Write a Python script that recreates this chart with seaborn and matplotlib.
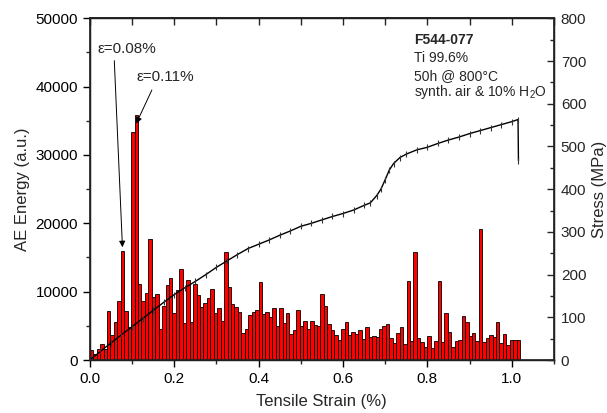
import numpy as np
import pandas as pd
import seaborn as sns
import matplotlib.pyplot as plt
from matplotlib.ticker import MultipleLocator

# Acoustic emission energy per strain bin (a.u.)
BIN = 0.00816  # strain (%) covered by one AE bin
ae_energy = [
    1460, 880, 1560, 2290, 1560, 7170, 3660, 5510, 8640, 15960,
    7170, 4880, 33300, 35800, 11080, 8660, 9760, 17670, 9170, 9610,
    4590, 7930, 10960, 11950, 6850, 10300, 13300, 5470, 11750, 5560,
    11080, 9470, 7710, 8300, 9030, 10350, 6830, 7560, 5760, 15760,
    10690, 8150, 7710, 7000, 3900, 4490, 6540, 7000, 7370, 11400,
    6730, 6980, 6340, 7540, 4980, 7560, 5370, 6830, 3790, 4390,
    7320, 4980, 5760, 4510, 5760, 5120, 4980, 9640, 7850, 5250,
    4440, 3710, 2930, 4610, 5580, 3640, 4100, 3740, 4390, 3050,
    4880, 3420, 3560, 3370, 4490, 4930, 5340, 3170, 2560, 3900,
    4780, 2310, 11610, 2730, 15860, 3240, 2680, 1900, 3510, 1710,
    2780, 11610, 2590, 6950, 4150, 1950, 2780, 2900, 6400, 5530,
    3470, 4000, 2780, 19180, 2680, 3170, 3690, 3300, 5530, 2500,
    3790, 2180, 2900, 2900, 2900,
]

# Stress-strain curve
stress_strain = [
    0.000, 0.025, 0.050, 0.075, 0.100, 0.125, 0.150, 0.175, 0.200, 0.225,
    0.250, 0.275, 0.300, 0.325, 0.350, 0.375, 0.400, 0.425, 0.450, 0.475,
    0.500, 0.525, 0.550, 0.575, 0.600, 0.625, 0.650, 0.665, 0.680, 0.690,
    0.700, 0.710, 0.720, 0.735, 0.750, 0.775, 0.800, 0.825, 0.850, 0.875,
    0.900, 0.925, 0.950, 0.975, 1.000, 1.015, 1.016,
]
stress_mpa = [
    0, 20, 40, 59, 78, 97, 116, 135, 153, 169,
    184, 200, 217, 232, 247, 261, 271, 281, 292, 302,
    313, 320, 328, 336, 343, 351, 362, 368, 385, 400,
    422, 445, 460, 474, 482, 492, 498, 507, 515, 522,
    530, 537, 544, 551, 558, 563, 467,
]

x_ticks = [0.0, 0.2, 0.4, 0.6, 0.8, 1.0]

sns.set_theme(style="ticks")
plt.rcParams["font.family"] = ["Liberation Sans", "DejaVu Sans"]
plt.rcParams["mathtext.fontset"] = "custom"
plt.rcParams["mathtext.rm"] = "Liberation Sans"
plt.rcParams["mathtext.default"] = "regular"

fig = plt.figure(figsize=(6.07, 4.13), dpi=100)
ax = fig.add_axes([0.148, 0.1283, 0.7645, 0.8274])

n = len(ae_energy)
ae = pd.DataFrame({"strain": (np.arange(n) + 0.5) * BIN, "energy": ae_energy})
sns.histplot(data=ae, x="strain", weights="energy", bins=n,
             binrange=(0, n * BIN), ax=ax,
             color="#ff0000", edgecolor="black", linewidth=0.6, alpha=1.0)

ax.set_xlim(0, 1.1)
ax.set_ylim(0, 50000)
ax.set_xticks(x_ticks)
ax.xaxis.set_minor_locator(MultipleLocator(0.1))
ax.yaxis.set_major_locator(MultipleLocator(10000))
ax.yaxis.set_minor_locator(MultipleLocator(5000))
ax.tick_params(axis="both", which="major", direction="out", length=5,
               width=1, labelsize=11, colors="black")
ax.tick_params(axis="both", which="minor", direction="out", length=3, width=1)
ax.set_xlabel("Tensile Strain (%)", fontsize=12, labelpad=6)
ax.set_ylabel("AE Energy (a.u.)", fontsize=12)
ax.yaxis.set_label_coords(-0.128, 0.5)
for s in ax.spines.values():
    s.set_visible(True)
    s.set_linewidth(1)
    s.set_color("black")

top = ax.secondary_xaxis("top")
top.xaxis.set_major_locator(MultipleLocator(0.1))
top.tick_params(axis="x", which="major", direction="in", length=5, width=1,
                labeltop=False)

# Stress curve on the right axis
ax2 = ax.twinx()
curve = pd.DataFrame({"strain": stress_strain, "stress": stress_mpa})
sns.lineplot(data=curve, x="strain", y="stress", ax=ax2, color="black",
             linewidth=1.0, marker="|", markersize=5, markeredgewidth=0.8,
             markeredgecolor="#333333")
ax2.set_ylim(0, 800)
ax2.yaxis.set_major_locator(MultipleLocator(100))
ax2.yaxis.set_minor_locator(MultipleLocator(50))
ax2.tick_params(axis="y", which="major", direction="in", length=5, width=1,
                labelsize=11, pad=5)
ax2.tick_params(axis="y", which="minor", direction="in", length=3, width=1)
ax2.set_ylabel("Stress (MPa)", fontsize=12)
ax2.yaxis.set_label_coords(1.082, 0.5)
ax2.set_xlabel("")

# Arrows marking the first AE bursts
arrow = dict(arrowstyle="-|>", color="black", lw=0.7, mutation_scale=9,
             shrinkA=0, shrinkB=0)
ax.annotate("\u03b5=0.08%", xy=(0.0773, 16500), xytext=(0.088, 45500),
            fontsize=11, ha="center", va="center", arrowprops=None)
ax.annotate("", xy=(0.0773, 16500), xytext=(0.058, 43800), arrowprops=arrow)
ax.annotate("\u03b5=0.11%", xy=(0.110, 34800), xytext=(0.178, 41400),
            fontsize=11, ha="center", va="center", arrowprops=None)
ax.annotate("", xy=(0.110, 34600), xytext=(0.147, 39500), arrowprops=arrow)

# Specimen information
ax.text(0.769, 46190, "F544-077", fontsize=10, fontweight="bold", va="baseline")
ax.text(0.769, 43550, "Ti 99.6%", fontsize=10, va="baseline")
ax.text(0.769, 41040, "50h @ 800\u00b0C", fontsize=10, va="baseline")
ax.text(0.769, 38700, "synth. air & 10% H$_2$O", fontsize=10, va="baseline")

fig.savefig("out.png", dpi=100)
